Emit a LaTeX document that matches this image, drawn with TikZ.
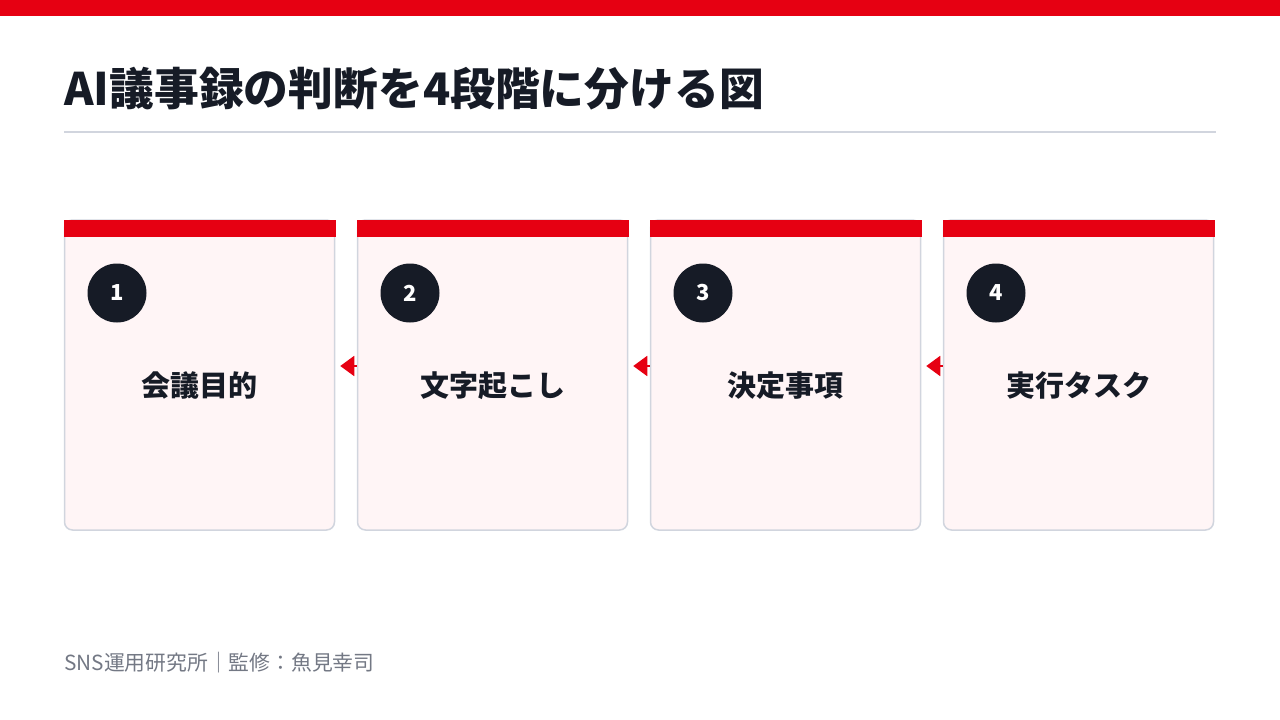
\documentclass[tikz,border=0pt]{standalone}
\usepackage{fontspec}
\setmainfont{Noto Sans CJK JP}
\usetikzlibrary{arrows.meta}
\definecolor{brandred}{HTML}{E60012}
\definecolor{inkdark}{HTML}{161B26}
\definecolor{rulegray}{HTML}{D1D5DE}
\definecolor{cardfill}{HTML}{FFF5F6}
\definecolor{footgray}{HTML}{737884}
\tikzset{
  card/.style={draw=rulegray, line width=1.5pt, fill=cardfill, rounded corners=8pt,
    minimum width=270pt, minimum height=310pt, inner sep=0pt},
  topbar/.style={fill=brandred, minimum width=272pt, minimum height=17pt, inner sep=0pt},
  numdot/.style={circle, fill=inkdark, minimum size=59pt, inner sep=0pt,
    text=white, font=\fontsize{22}{24}\selectfont\bfseries},
  steplabel/.style={text=inkdark, font=\fontsize{29}{32}\selectfont\bfseries},
  arr/.style={-{Triangle[length=14pt,width=20pt]}, draw=brandred, line width=2pt}
}
\begin{document}
\begin{tikzpicture}[x=1pt,y=-1pt]
\useasboundingbox (0,0) rectangle (1280,720);
\fill[brandred] (0,0) rectangle (1280,16);
\node[anchor=west, inner sep=0pt, text=inkdark, font=\fontsize{44.8}{48}\selectfont\bfseries] (title) at (64,89) {AI議事録の判断を4段階に分ける図};
\draw[rulegray, line width=2pt] (64,132) -- (1216,132);
% cards
\node[card] (c1) at (199.5,375) {};
\node[card] (c2) at (492.5,375) {};
\node[card] (c3) at (785.5,375) {};
\node[card] (c4) at (1078.5,375) {};
\node[topbar] (b1) at (199.5,228.5) {};
\node[topbar] (b2) at (492.5,228.5) {};
\node[topbar] (b3) at (785.5,228.5) {};
\node[topbar] (b4) at (1078.5,228.5) {};
\node[numdot] (n1) at (117,293) {1};
\node[numdot] (n2) at (410,293) {2};
\node[numdot] (n3) at (703,293) {3};
\node[numdot] (n4) at (996,293) {4};
\node[steplabel] (t1) at (199.5,386) {会議目的};
\node[steplabel] (t2) at (492.5,386) {文字起こし};
\node[steplabel] (t3) at (785.5,386) {決定事項};
\node[steplabel] (t4) at (1078.5,386) {実行タスク};
% arrows
\draw[arr] ([yshift=9pt]c2.west) -- ([xshift=5pt,yshift=9pt]c1.east);
\draw[arr] ([yshift=9pt]c3.west) -- ([xshift=5pt,yshift=9pt]c2.east);
\draw[arr] ([yshift=9pt]c4.west) -- ([xshift=5pt,yshift=9pt]c3.east);
\node[anchor=west, inner sep=0pt, text=footgray, font=\fontsize{20.8}{24}\selectfont] (foot) at (64,663) {SNS運用研究所｜監修：魚見幸司};
\end{tikzpicture}
\end{document}
